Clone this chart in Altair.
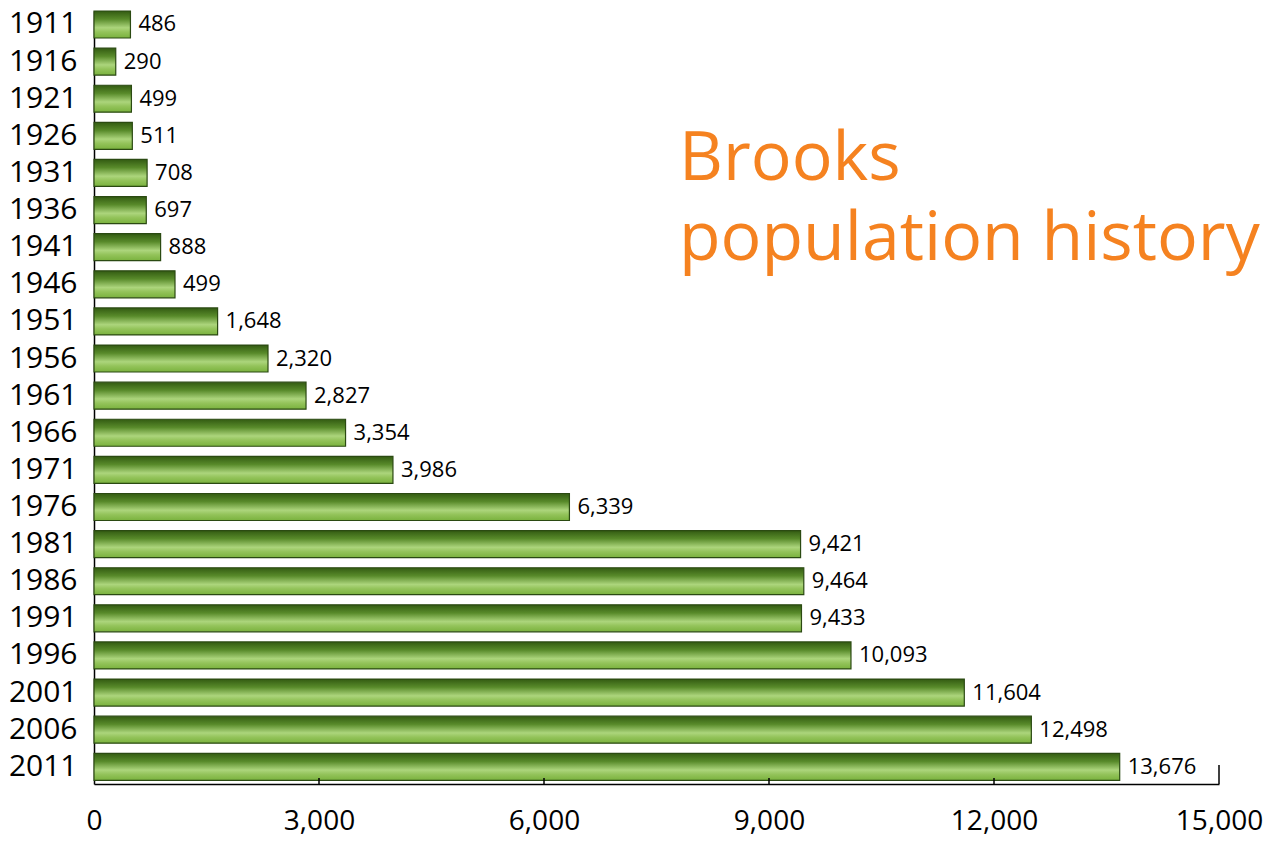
import altair as alt
import pandas as pd

years = ["1911", "1916", "1921", "1926", "1931", "1936", "1941", "1946", "1951", "1956",
         "1961", "1966", "1971", "1976", "1981", "1986", "1991", "1996", "2001", "2006", "2011"]
# bar lengths as drawn in the picture
population = [486, 290, 499, 511, 708, 697, 888, 1080, 1648, 2320,
              2827, 3354, 3986, 6339, 9421, 9464, 9433, 10093, 11604, 12498, 13676]
# value labels as printed in the picture
labels = ["486", "290", "499", "511", "708", "697", "888", "499", "1,648", "2,320",
          "2,827", "3,354", "3,986", "6,339", "9,421", "9,464", "9,433", "10,093", "11,604", "12,498", "13,676"]
x_ticks = [0, 3000, 6000, 9000, 12000, 15000]
inner_ticks = [3000, 6000, 9000, 12000]
end_tick = [15000]
title_lines = ["Brooks", "population history"]

FONT = "Open Sans"
W, H = 1125, 773

df = pd.DataFrame({"year": years, "pop": population, "label": labels})

x_scale = alt.Scale(domain=[0, 15000], nice=False)
x_axis = alt.Axis(values=x_ticks, format=",d", grid=False, ticks=False,
                  domain=True, domainColor="#000", domainWidth=1.5,
                  labelFont=FONT, labelFontSize=28, labelColor="#000",
                  labelPadding=23, title=None, labelFlush=False)
x_enc = alt.X("pop:Q", scale=x_scale, axis=x_axis)
y_enc = alt.Y("year:N", sort=years,
              scale=alt.Scale(paddingInner=0.273, paddingOuter=0.05, align=0),
              axis=alt.Axis(ticks=False, domain=True, domainColor="#000", domainWidth=1.5,
                            labelFont=FONT, labelFontSize=30, labelColor="#000",
                            labelPadding=17, title=None))

grad = alt.Gradient(
    gradient="linear", x1=0, x2=0, y1=0, y2=1,
    stops=[
        alt.GradientStop(color="#335b12", offset=0),
        alt.GradientStop(color="#588a2a", offset=0.3),
        alt.GradientStop(color="#acd57c", offset=0.62),
        alt.GradientStop(color="#93c35a", offset=0.78),
        alt.GradientStop(color="#7ab23e", offset=1),
    ],
)

bars = alt.Chart(df).mark_bar(color=grad, stroke="#2b4a12", strokeWidth=1.2).encode(
    x=x_enc, y=y_enc
)

text = alt.Chart(df).mark_text(align="left", baseline="middle", dx=8,
                               font=FONT, fontSize=22, color="#000").encode(
    x=x_enc, y=y_enc, text="label:N"
)

ticks_small = alt.Chart(pd.DataFrame({"pop": inner_ticks})).mark_rule(
    color="#000", strokeWidth=1.5).encode(
    x=x_enc, y=alt.value(H - 6), y2=alt.value(H)
)
ticks_end = alt.Chart(pd.DataFrame({"pop": end_tick})).mark_rule(
    color="#000", strokeWidth=1.5).encode(
    x=x_enc, y=alt.value(H - 19), y2=alt.value(H)
)

title1 = alt.Chart(pd.DataFrame({"t": [title_lines[0]]})).mark_text(
    align="left", baseline="alphabetic", font=FONT, fontSize=68, color="#F58220").encode(
    x=alt.value(585), y=alt.value(169), text="t:N"
)
title2 = alt.Chart(pd.DataFrame({"t": [title_lines[1]]})).mark_text(
    align="left", baseline="alphabetic", font=FONT, fontSize=68, color="#F58220").encode(
    x=alt.value(585), y=alt.value(249), text="t:N"
)

chart = alt.layer(bars, text, ticks_small, ticks_end, title1, title2).properties(
    width=W, height=H,
    background="white",
    autosize=alt.AutoSizeParams(type="none"),
    padding={"left": 86, "top": 3, "right": 44, "bottom": 53},
).configure_view(strokeWidth=0, stroke=None)

chart.save("out.html", embed_options={"renderer": "svg", "actions": False})
